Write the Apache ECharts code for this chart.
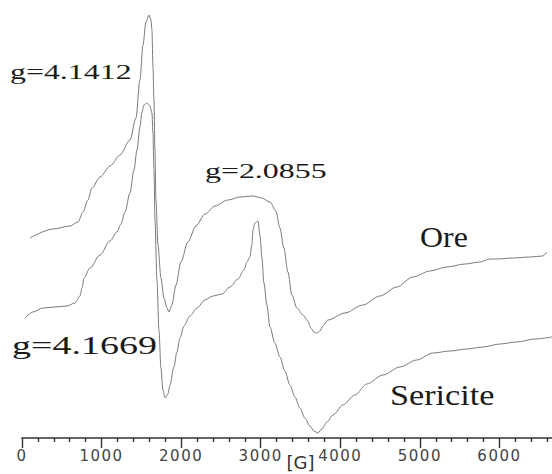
<!DOCTYPE html>
<html><head><meta charset="utf-8">
<script src="https://cdn.jsdelivr.net/npm/echarts@6/dist/echarts.min.js"></script>
<style>html,body{margin:0;padding:0;background:#fff}#chart{width:552px;height:474px}</style>
</head><body><div id="chart"></div>
<script>
// Magnetic field [G] and relative EPR signal (arbitrary units)
const oreField = [100,389,603,704,766,829,879,980,1106,1231,1357,1432,1482,1520,1558,1595,1621,1633,1646,1658,1671,1683,1709,1746,1784,1822,1847,1884,1935,1997,2085,2186,2299,2425,2588,2739,2903,3015,3116,3191,3241,3291,3342,3392,3455,3530,3593,3631,3668,3706,3744,3781,3844,4058,4284,4497,4711,4912,5126,5339,5565,5754,5880,5968,6168,6382,6545,6595];
const oreSignal = [200,209,212,216,226,238,250,261,272,283,298,320,358,393,416,423,418,408,371,338,288,238,193,160,140,130,126,133,153,176,196,212,224,232,238,241,242,240,236,227,210,190,166,143,130,123,117,110,106,105,107,112,118,125,133,142,151,161,167,171,174,176,179,179,180,181,182,186];
const sericiteField = [38,138,264,415,565,666,729,754,779,854,980,1106,1193,1244,1294,1357,1407,1445,1482,1508,1533,1570,1608,1633,1646,1658,1671,1696,1721,1746,1771,1797,1834,1859,1909,1947,1985,2035,2110,2198,2299,2400,2513,2613,2714,2789,2827,2864,2889,2902,2927,2965,2990,3015,3040,3078,3116,3178,3241,3304,3367,3430,3492,3555,3618,3668,3719,3769,3832,3907,4033,4183,4334,4535,4749,4962,5163,5377,5590,5791,6005,6219,6445,6658];
const sericiteSignal = [120,126,130,131,132,135,142,150,160,170,183,197,206,214,226,245,268,288,311,326,333,335,332,325,305,268,218,158,108,70,48,40,44,53,71,86,100,112,122,130,138,142,144,151,159,168,176,181,193,208,215,217,203,180,155,133,111,95,81,67,53,41,30,20,12,7,5,9,16,23,33,43,54,63,71,78,85,87,89,91,94,96,99,101];
const gLabels = ['g=4.1412', 'g=2.0855', 'g=4.1669'];
const sampleNames = ['Ore', 'Sericite'];
const fieldUnit = '[G]';

const pairs = (xs, ys) => xs.map((x, i) => [x, ys[i]]);
const chart = echarts.init(document.getElementById('chart'), null, {renderer: 'svg'});
const lineStyle = {color: '#7a7a7a', width: 1};
const serif = 'Liberation Serif';
function label(text, x, y, size, sx) {
  return {type: 'text', x: x, y: y, scaleX: sx,
          style: {text: text, font: size + 'px ' + serif, fill: '#1a1a1a', verticalAlign: 'middle', align: 'left'}};
}
chart.setOption({
  animation: false,
  backgroundColor: '#fff',
  grid: {left: 22, right: -27, top: 0, bottom: 36, containLabel: false, outerBoundsMode: 'none'},
  xAxis: {
    type: 'value', min: 0, max: 7000, interval: 1000,
    name: fieldUnit, nameLocation: 'middle', nameGap: 15, nameMoveOverlap: false,
    nameTextStyle: {fontFamily: 'DejaVu Sans', fontSize: 18, lineHeight: 18, color: '#333'},
    axisLine: {show: true, lineStyle: {color: '#333', width: 1.6}},
    axisTick: {show: true, length: 10, lineStyle: {color: '#333', width: 1.4}},
    minorTick: {show: true, splitNumber: 5, length: 4, lineStyle: {color: '#333', width: 1.4}},
    axisLabel: {margin: 10, fontFamily: 'DejaVu Sans', fontSize: 15, color: '#444',
                showMaxLabel: false, formatter: v => String(v)},
    splitLine: {show: false}
  },
  yAxis: {type: 'value', min: 0, max: 438, show: false, splitLine: {show: false}},
  series: [
    {name: sampleNames[0], type: 'line', data: pairs(oreField, oreSignal), showSymbol: false,
     smooth: 0.3, smoothMonotone: 'x', lineStyle: lineStyle},
    {name: sampleNames[1], type: 'line', data: pairs(sericiteField, sericiteSignal), showSymbol: false,
     smooth: 0.3, smoothMonotone: 'x', lineStyle: lineStyle}
  ],
  graphic: [
    label(gLabels[0], 10, 72, 22, 1.45),
    label(gLabels[1], 205, 171, 22, 1.45),
    label(gLabels[2], 12, 345, 25, 1.52),
    label(sampleNames[0], 420, 237, 29, 1.1),
    label(sampleNames[1], 390, 395, 29, 1.18)
  ]
});

function applySpacing() {
  chart.getDom().querySelectorAll('text').forEach(t => {
    const s = t.textContent.trim();
    if (/^\d+$/.test(s)) { t.style.letterSpacing = '1.5px'; t.setAttribute('letter-spacing', 1.5); }
  });
}
applySpacing();
chart.on('finished', applySpacing);
setTimeout(applySpacing, 50);
setTimeout(applySpacing, 300);
</script></body></html>
